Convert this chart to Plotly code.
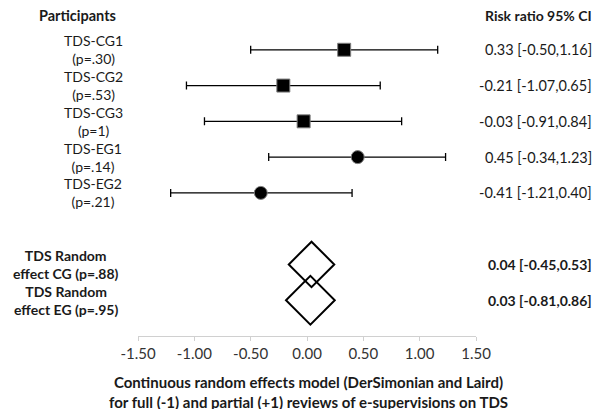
import plotly.graph_objects as go

participants = ["TDS-CG1", "TDS-CG2", "TDS-CG3", "TDS-EG1", "TDS-EG2"]
p_values = ["(p=.30)", "(p=.53)", "(p=1)", "(p=.14)", "(p=.21)"]
effects = [0.33, -0.21, -0.03, 0.45, -0.41]
ci_low = [-0.50, -1.07, -0.91, -0.34, -1.21]
ci_high = [1.16, 0.65, 0.84, 1.23, 0.40]
symbols = ["square", "square", "square", "circle", "circle"]
row_pos = [1, 2, 3, 4, 5]

summary_labels = ["TDS Random<br>effect CG (p=.88)", "TDS Random<br>effect EG (p=.95)"]
summary_effects = [0.04, 0.03]
summary_low = [-0.45, -0.81]
summary_high = [0.53, 0.86]
summary_pos = [7, 8]

tick_vals = [-1.5, -1.0, -0.5, 0.0, 0.5, 1.0, 1.5]
tick_text = ["-1.50", "-1.00", "-0.50", "0.00", "0.50", "1.00", "1.50"]

FONT = "Lato"
TXT = "#1a1a1a"

fig = go.Figure()

fig.add_trace(go.Scatter(
    x=effects, y=row_pos, mode="markers",
    marker=dict(symbol=symbols, size=13, color="black", opacity=1,
                line=dict(color="#7f7f7f", width=1)),
    error_x=dict(type="data", symmetric=False,
                 array=[h - e for h, e in zip(ci_high, effects)],
                 arrayminus=[e - l for e, l in zip(effects, ci_low)],
                 color="black", thickness=1.3, width=4),
    showlegend=False, cliponaxis=False,
))

fig.add_trace(go.Scatter(
    x=summary_effects, y=summary_pos, mode="markers",
    marker=dict(symbol="diamond-open", size=[35, 37.5], color="black", opacity=1,
                line=dict(color="black", width=2)),
    showlegend=False, cliponaxis=False,
))

annotations = []
for name, p, y in zip(participants, p_values, row_pos):
    annotations.append(dict(x=-0.133, y=y, xref="paper", yref="y", text=f"{name}<br>{p}",
                            showarrow=False, xanchor="center", yanchor="middle", align="center",
                            font=dict(family=FONT, size=14, color=TXT)))
for e, l, h, y in zip(effects, ci_low, ci_high, row_pos):
    annotations.append(dict(x=1.349, y=y, xref="paper", yref="y",
                            text=f"{e:.2f} [{l:.2f},{h:.2f}]",
                            showarrow=False, xanchor="right", yanchor="middle",
                            font=dict(family=FONT, size=14.5, color=TXT)))
for lab, y in zip(summary_labels, summary_pos):
    annotations.append(dict(x=-0.213, y=y, xref="paper", yref="y", text=f"<b>{lab}</b>",
                            showarrow=False, xanchor="center", yanchor="middle", align="center",
                            font=dict(family=FONT, size=14, color=TXT)))
for e, l, h, y in zip(summary_effects, summary_low, summary_high, summary_pos):
    annotations.append(dict(x=1.349, y=y, xref="paper", yref="y",
                            text=f"<b>{e:.2f} [{l:.2f},{h:.2f}]</b>",
                            showarrow=False, xanchor="right", yanchor="middle",
                            font=dict(family=FONT, size=14, color=TXT)))
annotations.append(dict(x=-0.178, y=0.03, xref="paper", yref="y", text="<b>Participants</b>",
                        showarrow=False, xanchor="center", yanchor="middle",
                        font=dict(family=FONT, size=14.5, color=TXT)))
annotations.append(dict(x=1.349, y=0.03, xref="paper", yref="y", text="<b>Risk ratio 95% CI</b>",
                        showarrow=False, xanchor="right", yanchor="middle",
                        font=dict(family=FONT, size=14, color=TXT)))
annotations.append(dict(x=0.503, y=-0.174, xref="paper", yref="paper",
                        text="<b>Continuous random effects model (DerSimonian and Laird)<br>"
                             "for full (-1) and partial (+1) reviews of e-supervisions on TDS</b>",
                        showarrow=False, xanchor="center", yanchor="middle", align="center",
                        font=dict(family=FONT, size=15, color=TXT)))

fig.update_layout(
    width=599, height=401,
    margin=dict(l=130, r=131, t=6, b=73),
    paper_bgcolor="white", plot_bgcolor="white",
    annotations=annotations,
    xaxis=dict(range=[-1.5, 1.5], tickvals=tick_vals, ticktext=tick_text,
               showgrid=False, zeroline=False, showline=True, linecolor="#d0d0d0",
               linewidth=1, ticks="outside", ticklen=4, tickcolor="#d0d0d0",
               tickfont=dict(family=FONT, size=15, color="#333333")),
    yaxis=dict(range=[9, 0], visible=False, showgrid=False, zeroline=False),
)

fig.write_html("out.html")
